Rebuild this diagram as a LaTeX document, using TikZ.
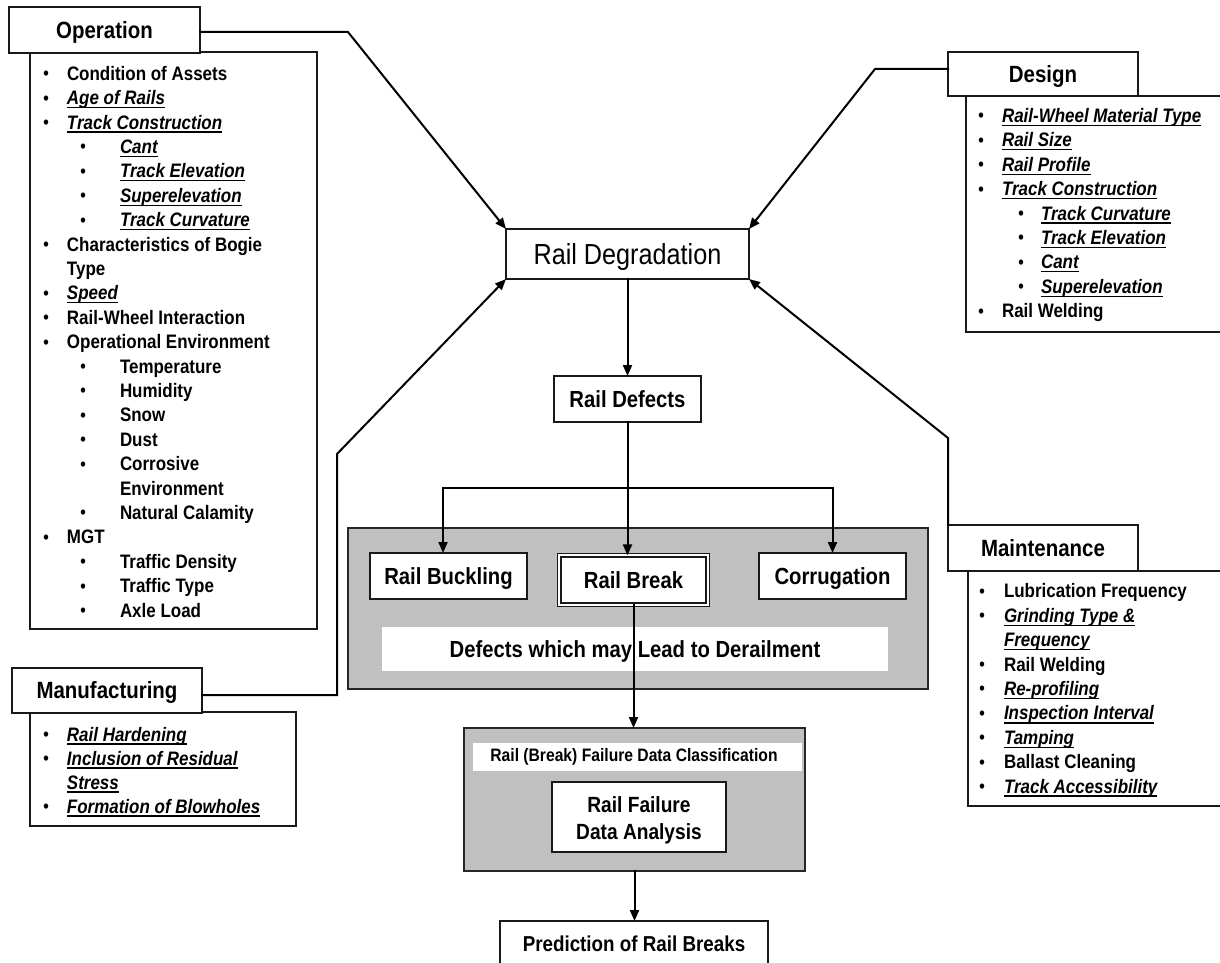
\documentclass[tikz,border=0pt]{standalone}
\usepackage{fontspec}
\setmainfont{Liberation Sans}[FakeStretch=0.87]
\usetikzlibrary{arrows.meta}

\definecolor{stipple}{RGB}{192,192,192}

% bullet, list rows and underlined italic entries
\newcommand\bul{\raisebox{0.6pt}{\fontsize{18}{18}\selectfont\textbullet}}
\newcommand\Lrow[3]{\strut\hspace*{#1pt}\makebox[0pt]{\bul}\hspace*{#2pt}#3}
\newcommand\Lcont[2]{\strut\hspace*{#1pt}#2}
\newcommand\Uline[1]{{\setbox0=\hbox{#1}\rlap{\rule[-3.6pt]{\wd0}{1.3pt}}\box0}}
\newcommand\UI[1]{\Uline{\itshape #1}}

\begin{document}
\begin{tikzpicture}[x=1pt,y=-1pt,
  every node/.style={inner sep=0pt, outer sep=0pt},
  plainbox/.style={draw=black!90, line width=1.5pt, fill=white},
  headbox/.style={plainbox, font=\fontsize{23.5}{28}\selectfont\bfseries, text height=16.8pt, text depth=0pt},
  defbox/.style={plainbox, font=\fontsize{23.3}{28}\selectfont\bfseries, text height=16.7pt, text depth=0pt},
  listbox/.style={draw=black!90, line width=1.5pt, fill=white, anchor=north west},
  listtext/.style={anchor=north west, align=left, font=\fontsize{19.5}{24.4}\selectfont\bfseries},
  dotbox/.style={draw=black!85, line width=1.5pt, fill=stipple},
  whiteband/.style={fill=white, font=\fontsize{23.3}{28}\selectfont\bfseries, text height=16.7pt, text depth=0pt},
  conn/.style={line width=2pt, draw=black, line cap=rect},
  arr/.style={conn, -{Triangle[length=11pt,width=9pt]}}
]
\clip (0,0) rectangle (1220,963);
\fill[white] (0,0) rectangle (1220,963);

% ---------------- Operation ----------------
\node[listbox, minimum width=287, minimum height=577] (oplist) at (30,52) {};
\node[listtext] (optext) at (30,63.2) {%
\Lrow{16}{21}{Condition of Assets}\\
\Lrow{16}{21}{\UI{Age of Rails}}\\
\Lrow{16}{21}{\UI{Track Construction}}\\
\Lrow{53}{37}{\UI{Cant}}\\
\Lrow{53}{37}{\UI{Track Elevation}}\\
\Lrow{53}{37}{\UI{Superelevation}}\\
\Lrow{53}{37}{\UI{Track Curvature}}\\
\Lrow{16}{21}{Characteristics of Bogie}\\
\Lcont{37}{Type}\\
\Lrow{16}{21}{\UI{Speed}}\\
\Lrow{16}{21}{Rail-Wheel Interaction}\\
\Lrow{16}{21}{Operational Environment}\\
\Lrow{53}{37}{Temperature}\\
\Lrow{53}{37}{Humidity}\\
\Lrow{53}{37}{Snow}\\
\Lrow{53}{37}{Dust}\\
\Lrow{53}{37}{Corrosive}\\
\Lcont{90}{Environment}\\
\Lrow{53}{37}{Natural Calamity}\\
\Lrow{16}{21}{MGT}\\
\Lrow{53}{37}{Traffic Density}\\
\Lrow{53}{37}{Traffic Type}\\
\Lrow{53}{37}{Axle Load}};
\node[headbox, minimum width=191, minimum height=46] (optitle) at (104.5,30) {Operation};

% ---------------- Design ----------------
\node[listbox, minimum width=260, minimum height=236] (deslist) at (966,96) {};
\node[listtext] (destext) at (966,105.4) {%
\Lrow{15}{21}{\UI{Rail-Wheel Material Type}}\\
\Lrow{15}{21}{\UI{Rail Size}}\\
\Lrow{15}{21}{\UI{Rail Profile}}\\
\Lrow{15}{21}{\UI{Track Construction}}\\
\Lrow{55}{20}{\UI{Track Curvature}}\\
\Lrow{55}{20}{\UI{Track Elevation}}\\
\Lrow{55}{20}{\UI{Cant}}\\
\Lrow{55}{20}{\UI{Superelevation}}\\
\Lrow{15}{21}{Rail Welding}};
\node[headbox, minimum width=190, minimum height=44] (destitle) at (1043,74) {Design};

% ---------------- Maintenance ----------------
\node[listbox, minimum width=260, minimum height=235] (mtlist) at (968,571) {};
\node[listtext] (mttext) at (968,580.9) {%
\Lrow{14}{22}{Lubrication Frequency}\\
\Lrow{14}{22}{\UI{Grinding Type \&}}\\
\Lcont{36}{\UI{Frequency}}\\
\Lrow{14}{22}{Rail Welding}\\
\Lrow{14}{22}{\UI{Re-profiling}}\\
\Lrow{14}{22}{\UI{Inspection Interval}}\\
\Lrow{14}{22}{\UI{Tamping}}\\
\Lrow{14}{22}{Ballast Cleaning}\\
\Lrow{14}{22}{\UI{Track Accessibility}}};
\node[headbox, minimum width=190, minimum height=46] (mttitle) at (1043,548) {Maintenance};

% ---------------- Manufacturing ----------------
\node[listbox, minimum width=266, minimum height=114] (mflist) at (30,712) {};
\node[listtext, font=\fontsize{19.5}{24}\selectfont\bfseries] (mftext) at (30,724.2) {%
\Lrow{16}{21}{\UI{Rail Hardening}}\\
\Lrow{16}{21}{\UI{Inclusion of Residual}}\\
\Lcont{37}{\UI{Stress}}\\
\Lrow{16}{21}{\UI{Formation of Blowholes}}};
\node[headbox, minimum width=190, minimum height=45] (mftitle) at (107,690.5) {Manufacturing};

% ---------------- central chain ----------------
\node[plainbox, font=\fontsize{29}{34}\selectfont, text height=20.8pt, text depth=0pt,
      minimum width=243, minimum height=50] (degr) at (627.5,254) {Rail Degradation};
\node[defbox, minimum width=147, minimum height=46] (defects) at (627.5,399) {Rail Defects};

\node[dotbox, minimum width=580, minimum height=161] (leadbox) at (638,608.5) {};
\node[whiteband, minimum width=506, minimum height=44] (leadband) at (635,649) {Defects which may Lead to Derailment};
\node[defbox, minimum width=157, minimum height=46] (buckling) at (448.5,576) {Rail Buckling};
\node[defbox, double, double distance=2pt, line width=1.6pt,
      minimum width=148.2, minimum height=49.2] (rbreak) at (633.5,580) {Rail Break};
\node[defbox, minimum width=147, minimum height=46] (corrug) at (832.5,576) {Corrugation};

\node[dotbox, minimum width=341, minimum height=143] (classbox) at (634.5,799.5) {};
\node[fill=white, minimum width=329, minimum height=28] (classband) at (637.5,757) {};
\node[font=\fontsize{18}{22}\selectfont\bfseries, text height=12.9pt, text depth=0pt] (classtext) at (634,755.5) {Rail (Break) Failure Data Classification};
\node[plainbox, minimum width=174, minimum height=70] (analysis) at (639,817) {};
\node[align=center, font=\fontsize{22}{27}\selectfont\bfseries] (analysistext) at (639,820) {Rail Failure\\Data Analysis};

\node[plainbox, font=\fontsize{21.6}{26}\selectfont\bfseries, text height=15.5pt, text depth=0pt,
      minimum width=268, minimum height=46] (predict) at (634,944) {Prediction of Rail Breaks};

% ---------------- connectors ----------------
\coordinate (opbend) at (348,32);
\draw[arr] (optitle.east |- opbend) -- (opbend) -- (degr.north west);
\coordinate (desbend) at (875,69);
\draw[arr] (destitle.west |- desbend) -- (desbend) -- (degr.north east);
\coordinate (mfbend) at (337,695);
\coordinate (mfknee) at (337,454);
\draw[arr] (mftitle.east |- mfbend) -- (mfbend) -- (mfknee) -- (degr.south west);
\coordinate (mtknee) at (948,438);
\draw[arr] (mttitle.north west) -- (mtknee) -- (degr.south east);

\draw[arr] (degr.south) -- (defects.north);

\coordinate (brL) at (443,488);
\coordinate (brM) at (627.5,488);
\coordinate (brR) at (832.5,488);
\draw[conn] (defects.south) -- (brM);
\draw[arr] (brR) -- (brL) -- (brL |- buckling.north);
\draw[arr] (brM) -- (brM |- rbreak.north);
\draw[arr] (brR) -- (corrug.north);

\draw[arr] (rbreak.south) -- (rbreak.south |- classbox.north);
\draw[arr] (classbox.south) -- (classbox.south |- predict.north);
\end{tikzpicture}
\end{document}
